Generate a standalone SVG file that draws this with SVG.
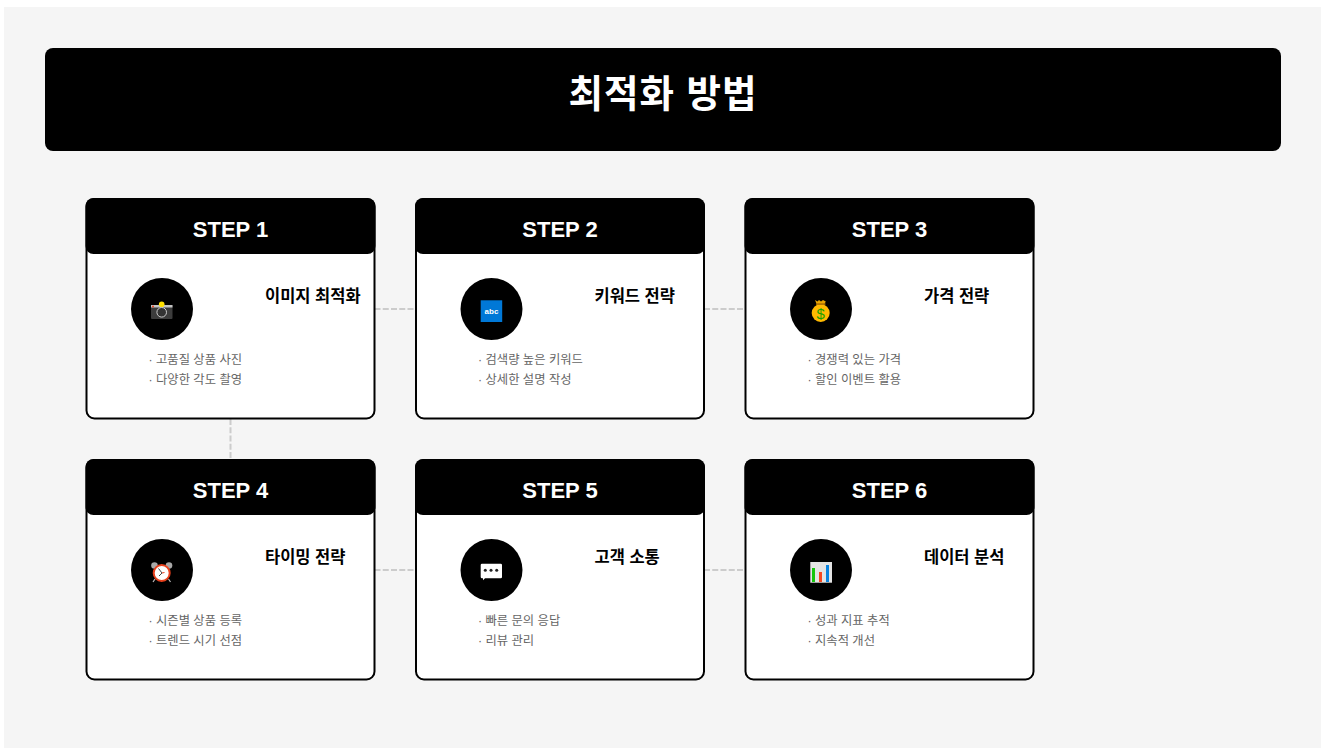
<svg xmlns="http://www.w3.org/2000/svg" width="1328" height="754" viewBox="0 0 1328 754">
<style>
text{font-family:"Liberation Sans","Noto Sans CJK KR",Arial,sans-serif}
.card{fill:#fff;stroke:#000;stroke-width:2}
.hd{fill:#000}
.st{font-size:22px;font-weight:700;fill:#fff;text-anchor:middle}
.tt{font-size:16.5px;font-weight:700;fill:#000}
.it{font-size:12.3px;fill:#666}
.cn{stroke:#ccc;stroke-width:2;stroke-dasharray:6 2.25;fill:none}
</style>
<rect width="1328" height="754" fill="#fff"/>
<rect x="4" y="7" width="1317" height="741" fill="#f5f5f5"/>
<g id="title"><rect x="45" y="48" width="1236" height="103" rx="8" fill="#000"/>
<text x="663" y="107" font-size="37.500" letter-spacing="1" font-weight="700" fill="#fff" text-anchor="middle">최적화 방법</text></g>
<g id="connectors">
<path class="cn" d="M374.500 309H415M704 309H744.500M374.500 570H415M704 570H744.500M230.500 419V459"/>
</g>
<g id="step1"><rect class="card" x="86.500" y="199" width="288" height="219.500" rx="8"/><rect class="hd" x="85.500" y="198" width="290" height="56" rx="8"/>
<text class="st" x="230.500" y="237">STEP 1</text><circle cx="162" cy="309" r="31"/>
<g id="icon-camera"><rect x="151" y="305" width="21.500" height="14" rx="1" fill="#3c3c3c"/><rect x="151" y="305" width="21.500" height="2.500" fill="#c4c4c4"/><circle cx="161.700" cy="304.200" r="2.800" fill="#ffe000"/><circle cx="153" cy="306.500" r="1" fill="#e8401c"/><circle cx="161.700" cy="312.300" r="4.800" fill="#333" stroke="#ccc" stroke-width="1"/></g>
<text class="tt" x="265" y="302">이미지 최적화</text><text class="it" x="148.500" y="364">· 고품질 상품 사진</text><text class="it" x="148.500" y="384">· 다양한 각도 촬영</text></g>
<g id="step2"><rect class="card" x="416" y="199" width="288" height="219.500" rx="8"/><rect class="hd" x="415" y="198" width="290" height="56" rx="8"/>
<text class="st" x="560" y="237">STEP 2</text><circle cx="491.500" cy="309" r="31"/>
<g id="icon-abc"><rect x="480.700" y="300.300" width="21.500" height="21.700" fill="#0078d7"/><text x="491.500" y="314" font-size="8" font-weight="700" fill="#fff" text-anchor="middle">abc</text></g>
<text class="tt" x="594.500" y="302">키워드 전략</text><text class="it" x="478" y="364">· 검색량 높은 키워드</text><text class="it" x="478" y="384">· 상세한 설명 작성</text></g>
<g id="step3"><rect class="card" x="745.500" y="199" width="288" height="219.500" rx="8"/><rect class="hd" x="744.500" y="198" width="290" height="56" rx="8"/>
<text class="st" x="889.500" y="237">STEP 3</text><circle cx="821" cy="309" r="31"/>
<g id="icon-money"><circle cx="820.700" cy="313" r="9" fill="#ffb900"/><path d="M815 300l2.500 1.500 1.500-1.500 2 1.500 2-1.500 2.800 1.500-1.800 3.500h-7z" fill="#e8a400"/><rect x="816" y="303.300" width="9.500" height="1.500" fill="#a86c00"/><text x="820.700" y="318.500" font-size="15" fill="#16a000" text-anchor="middle">$</text></g>
<text class="tt" x="924" y="302">가격 전략</text><text class="it" x="807.500" y="364">· 경쟁력 있는 가격</text><text class="it" x="807.500" y="384">· 할인 이벤트 활용</text></g>
<g id="step4"><rect class="card" x="86.500" y="460" width="288" height="219.500" rx="8"/><rect class="hd" x="85.500" y="459" width="290" height="56" rx="8"/>
<text class="st" x="230.500" y="498">STEP 4</text><circle cx="162" cy="570" r="31"/>
<g id="icon-clock"><circle cx="154.500" cy="565.500" r="3.300" fill="#a8a8a8"/><circle cx="169" cy="565.500" r="3.300" fill="#a8a8a8"/><path d="M155 579l-2 3M168.500 579l2 3" stroke="#bbb" stroke-width="1.200"/><circle cx="161.700" cy="573" r="8" fill="#fff" stroke="#e8401c" stroke-width="2"/><path d="M158.500 568.500l3.500 4.500-3 3" fill="none" stroke="#444" stroke-width="1"/><path d="M162 573l2.500-.5" stroke="#e8401c" stroke-width="1"/></g>
<text class="tt" x="265" y="563">타이밍 전략</text><text class="it" x="148.500" y="625">· 시즌별 상품 등록</text><text class="it" x="148.500" y="645">· 트렌드 시기 선점</text></g>
<g id="step5"><rect class="card" x="416" y="460" width="288" height="219.500" rx="8"/><rect class="hd" x="415" y="459" width="290" height="56" rx="8"/>
<text class="st" x="560" y="498">STEP 5</text><circle cx="491.500" cy="570" r="31"/>
<g id="icon-bubble"><path d="M482 563.700h18.700a1.300 1.300 0 0 1 1.300 1.300v12a1.300 1.300 0 0 1-1.300 1.300h-15.700l-2 2v-2h-1a1.300 1.300 0 0 1-1.300-1.300v-12a1.300 1.300 0 0 1 1.300-1.300z" fill="#fff"/><circle cx="485.300" cy="570.300" r="1.500" fill="#222"/><circle cx="491" cy="570.300" r="1.500" fill="#222"/><circle cx="496.700" cy="570.300" r="1.500" fill="#222"/></g>
<text class="tt" x="594.500" y="563">고객 소통</text><text class="it" x="478" y="625">· 빠른 문의 응답</text><text class="it" x="478" y="645">· 리뷰 관리</text></g>
<g id="step6"><rect class="card" x="745.500" y="460" width="288" height="219.500" rx="8"/><rect class="hd" x="744.500" y="459" width="290" height="56" rx="8"/>
<text class="st" x="889.500" y="498">STEP 6</text><circle cx="821" cy="570" r="31"/>
<g id="icon-chart"><rect x="810.300" y="562" width="21.700" height="20.700" fill="#e4e4e4"/><rect x="812" y="568" width="3" height="14" fill="#16c60c"/><rect x="819" y="572" width="3" height="10" fill="#f7481f"/><rect x="826" y="565" width="3" height="17" fill="#0a84e0"/></g>
<text class="tt" x="924" y="563">데이터 분석</text><text class="it" x="807.500" y="625">· 성과 지표 추적</text><text class="it" x="807.500" y="645">· 지속적 개선</text></g>
</svg>
